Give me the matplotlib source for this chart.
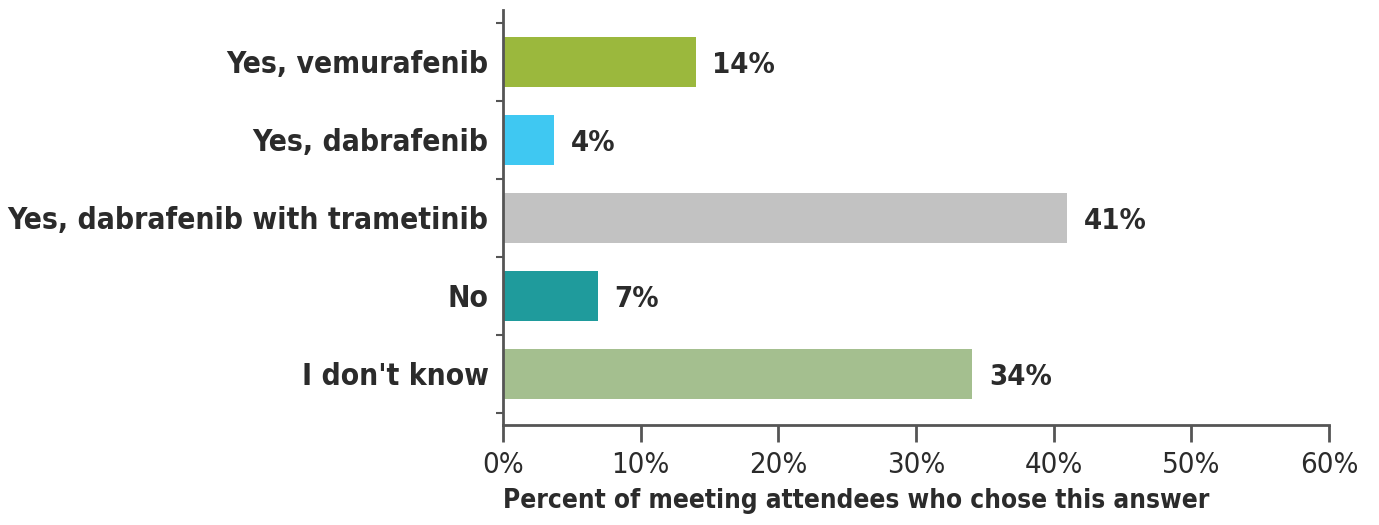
import matplotlib
matplotlib.use("Agg")
import matplotlib.pyplot as plt

categories = ["Yes, vemurafenib", "Yes, dabrafenib", "Yes, dabrafenib with trametinib", "No", "I don't know"]
values = [14, 3.7, 41, 6.9, 34.1]
value_labels = ["14%", "4%", "41%", "7%", "34%"]
colors = ["#9BB83D", "#3FC8F2", "#C2C2C2", "#1F9B9C", "#A4BF8F"]
xticks = [0, 10, 20, 30, 40, 50, 60]
xticklabels = ["0%", "10%", "20%", "30%", "40%", "50%", "60%"]
xlabel = "Percent of meeting attendees who chose this answer"

fam = ["DejaVu Sans"]
st = "condensed"

fig = plt.figure(figsize=(13.79, 5.25), dpi=100)
ax = fig.add_axes([503/1379, 1-425/525, (1329-503)/1379, 415/525])
ypos = list(range(len(categories)))
ax.barh(ypos, values, height=0.64, color=colors)
ax.set_xlim(0, 60)
ax.set_ylim(4.65, -0.67)
txtc = "#2b2b2b"
for y, v, lab in zip(ypos, values, value_labels):
    ax.text(v + 1.2, y + 0.03, lab, va="center", ha="left", fontsize=21, fontweight="bold",
            family=fam, fontstretch=st, color=txtc)
ax.set_yticks([y - 0.5 for y in ypos] + [4.5])
ax.set_yticklabels([])
for y, c in zip(ypos, categories):
    ax.text(-1.05, y + 0.03, c, va="center", ha="right", fontsize=21.5, fontweight="bold",
            family=fam, fontstretch=st, color=txtc)
ax.set_xticks(xticks)
ax.set_xticklabels(xticklabels, fontsize=21, family=fam, fontstretch=st, color=txtc)
ax.set_xlabel(xlabel, fontsize=18.8, fontweight="bold", family=fam, fontstretch=st,
              color=txtc, labelpad=6, loc="left")
for s in ["top", "right"]:
    ax.spines[s].set_visible(False)
for s in ["left", "bottom"]:
    ax.spines[s].set_color("#555555")
    ax.spines[s].set_linewidth(2)
ax.tick_params(axis="x", direction="out", length=12, width=2, color="#555555", pad=7)
ax.tick_params(axis="y", direction="out", length=5, width=1.5, color="#555555")
fig.savefig("out.png", dpi=100, facecolor="white")
